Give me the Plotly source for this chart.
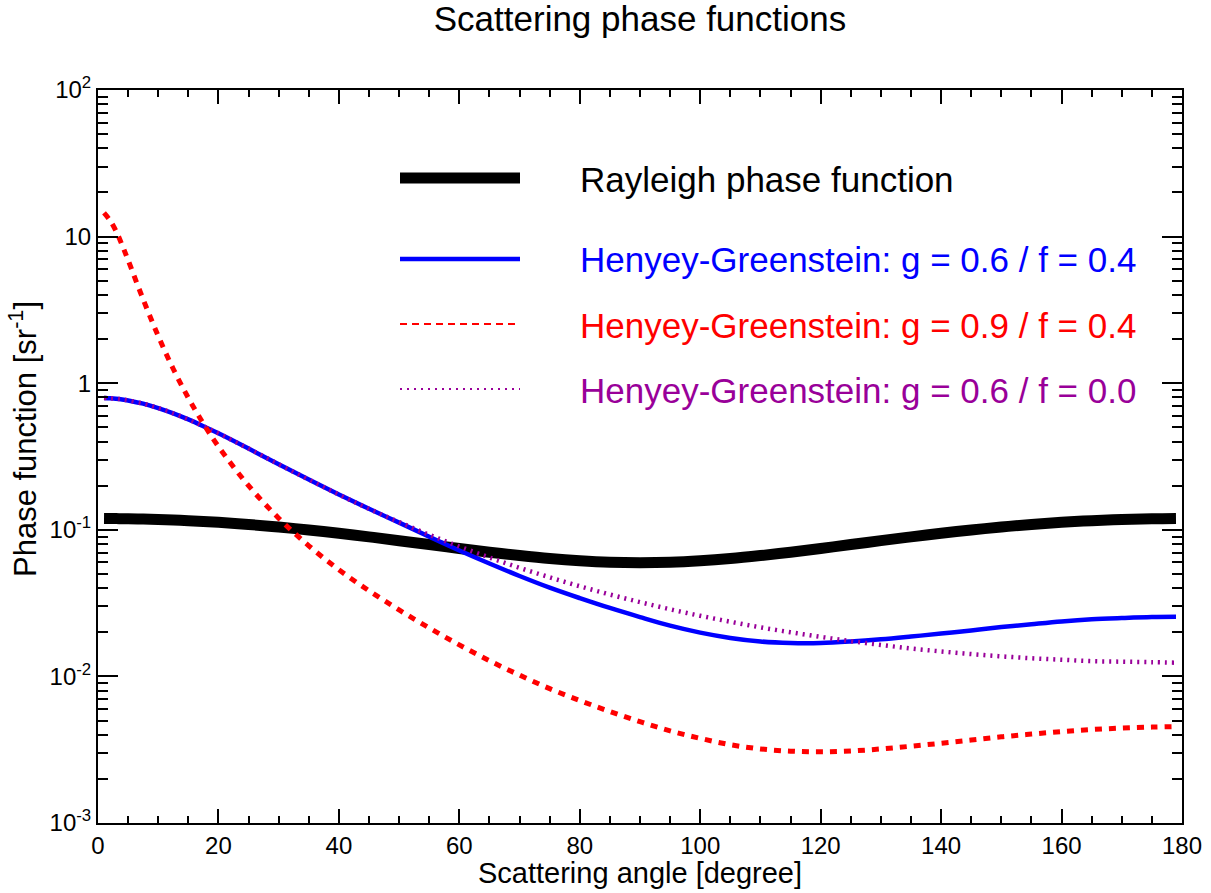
import plotly.graph_objects as go

# Scattering angle [degree]
angle = [1, 2, 3, 4, 5, 7.5, 10, 12.5, 15, 17.5, 20, 25, 30, 35, 40, 45, 50, 55,
         60, 65, 70, 75, 80, 85, 90, 95, 100, 105, 110, 115, 120, 125, 130, 135,
         140, 145, 150, 155, 160, 165, 170, 175, 179]

rayleigh = [0.1194, 0.1193, 0.1192, 0.1191, 0.1189, 0.1183, 0.1176, 0.1166, 0.1154, 0.1140,
            0.1124, 0.1087, 0.1045, 0.0997, 0.0947, 0.0895, 0.0843, 0.0793,
            0.0746, 0.0703, 0.0667, 0.0637, 0.0615, 0.0601, 0.0597, 0.0601, 0.0615, 0.0637,
            0.0667, 0.0703, 0.0746, 0.0793, 0.0843, 0.0895, 0.0947, 0.0997, 0.1045,
            0.1087, 0.1124, 0.1154, 0.1176, 0.1189, 0.1194]

hg_g06_f04 = [0.794, 0.790, 0.784, 0.775, 0.763, 0.725, 0.677, 0.623, 0.566, 0.509,
              0.455, 0.358, 0.280, 0.220, 0.174, 0.139, 0.112, 0.0897,
              0.0723, 0.0589, 0.0484, 0.0403, 0.0342, 0.0293, 0.0254, 0.0222, 0.0199,
              0.0183, 0.0173, 0.0169, 0.0169, 0.0173, 0.0179, 0.0187, 0.0196, 0.0206,
              0.0217, 0.0227, 0.0237, 0.0245, 0.0250, 0.0254, 0.0255]

hg_g09_f04 = [14.5, 12.9, 10.9, 8.76, 6.91, 3.73, 2.10, 1.25, 0.794, 0.530,
              0.370, 0.200, 0.120, 0.0778, 0.0534, 0.0384, 0.0284, 0.0214,
              0.0164, 0.0128, 0.0102, 0.00825, 0.00685, 0.00576, 0.00491, 0.00425, 0.00378,
              0.00342, 0.00320, 0.00309, 0.00306, 0.00310, 0.00320, 0.00334, 0.00350, 0.00368,
              0.00387, 0.00404, 0.00420, 0.00434, 0.00444, 0.00451, 0.00455]

hg_g06_f00 = [0.794, 0.790, 0.784, 0.775, 0.763, 0.725, 0.677, 0.623, 0.566, 0.509,
              0.455, 0.358, 0.280, 0.220, 0.174, 0.139, 0.1128, 0.0925,
              0.0769, 0.0647, 0.0550, 0.0474, 0.0412, 0.0362, 0.0321, 0.0287, 0.0259,
              0.0236, 0.0216, 0.0200, 0.0186, 0.0174, 0.0164, 0.0155, 0.0148, 0.0142,
              0.0137, 0.0133, 0.0130, 0.0127, 0.0126, 0.0125, 0.0124]

names = ["Rayleigh phase function",
         "Henyey-Greenstein: g = 0.6 / f = 0.4",
         "Henyey-Greenstein: g = 0.9 / f = 0.4",
         "Henyey-Greenstein: g = 0.6 / f = 0.0"]
colors = ["#000000", "#0000ff", "#ff0000", "#990099"]

ytick_vals = [0.001, 0.01, 0.1, 1, 10, 100]
ytick_text = ["10<sup>-3</sup>", "10<sup>-2</sup>", "10<sup>-1</sup>", "1", "10", "10<sup>2</sup>"]
yminor = [m * 10.0 ** e for e in range(-3, 2) for m in range(2, 10)]

FONT = "Liberation Sans, Arial, sans-serif"

fig = go.Figure()
fig.add_trace(go.Scatter(x=angle, y=rayleigh, mode="lines", name=names[0],
                         line=dict(color=colors[0], width=11, shape="spline")))
fig.add_trace(go.Scatter(x=angle, y=hg_g06_f04, mode="lines", name=names[1],
                         line=dict(color=colors[1], width=4.5, shape="spline")))
fig.add_trace(go.Scatter(x=angle, y=hg_g06_f00, mode="lines", name=names[3],
                         line=dict(color=colors[3], width=4.5, dash="2px,5px", shape="spline")))
fig.add_trace(go.Scatter(x=angle, y=hg_g09_f04, mode="lines", name=names[2],
                         line=dict(color=colors[2], width=5, dash="7px,7px", shape="spline")))

# plot area in pixels: x 98..1182, y 90..823
L, R, T, B = 98, 1182, 90, 823
W, H = 1211, 893
def px(x):
    return (x - L) / (R - L)
def py(y):
    return (B - y) / (B - T)

shapes = []
annotations = []
leg_rows = [(178, 11, "solid", 180), (259, 4.5, "solid", 259), (324, 2, "7px,5px", 325), (389, 2, "2px,5px", 390)]
for i, (ly, w, dash, ty) in enumerate(leg_rows):
    shapes.append(dict(type="line", xref="paper", yref="paper", x0=px(400), x1=px(520),
                       y0=py(ly), y1=py(ly), line=dict(color=colors[i], width=w, dash=dash)))
    annotations.append(dict(xref="paper", yref="paper", x=px(578), y=py(ty), xanchor="left",
                            yanchor="middle", text=names[i], showarrow=False,
                            font=dict(family=FONT, size=35, color=colors[i])))

annotations.append(dict(xref="paper", yref="paper", x=0.5, y=py(873), xanchor="center",
                        yanchor="middle", text="Scattering angle [degree]", showarrow=False,
                        font=dict(family=FONT, size=29, color="black")))
annotations.append(dict(xref="paper", yref="paper", x=px(23), y=py(439), xanchor="center",
                        yanchor="middle", text="Phase function [sr<sup>-1</sup>]", textangle=-90,
                        showarrow=False, font=dict(family=FONT, size=31, color="black")))

fig.update_layout(
    width=W, height=H,
    margin=dict(l=L, r=W - R, t=T, b=H - B, autoexpand=False),
    paper_bgcolor="white", plot_bgcolor="white",
    showlegend=False,
    title=dict(text="Scattering phase functions", x=0.5, xref="paper",
               y=1 - 19 / H, yref="container", yanchor="middle",
               font=dict(family=FONT, size=35, color="black")),
    shapes=shapes, annotations=annotations,
    font=dict(family=FONT, color="black"),
)
fig.update_xaxes(range=[0, 180], dtick=20, tick0=0, ticks="inside", ticklen=14, tickwidth=2,
                 tickcolor="black", showline=True, linewidth=2, linecolor="black", mirror="ticks",
                 showgrid=False, zeroline=False, tickfont=dict(family=FONT, size=24, color="black"),
                 minor=dict(ticks="inside", ticklen=7, tickwidth=2, tickcolor="black", dtick=5,
                            tick0=0, showgrid=False))
fig.update_yaxes(type="log", range=[-3, 2], tickmode="array", tickvals=ytick_vals, ticktext=ytick_text,
                 ticks="inside", ticklen=20, tickwidth=2, tickcolor="black", showline=True,
                 linewidth=2, linecolor="black", mirror="ticks", showgrid=False, zeroline=False,
                 tickfont=dict(family=FONT, size=24, color="black"),
                 minor=dict(ticks="inside", ticklen=10, tickwidth=2, tickcolor="black",
                            tickmode="array", tickvals=yminor, showgrid=False))

fig.write_html("out.html")
